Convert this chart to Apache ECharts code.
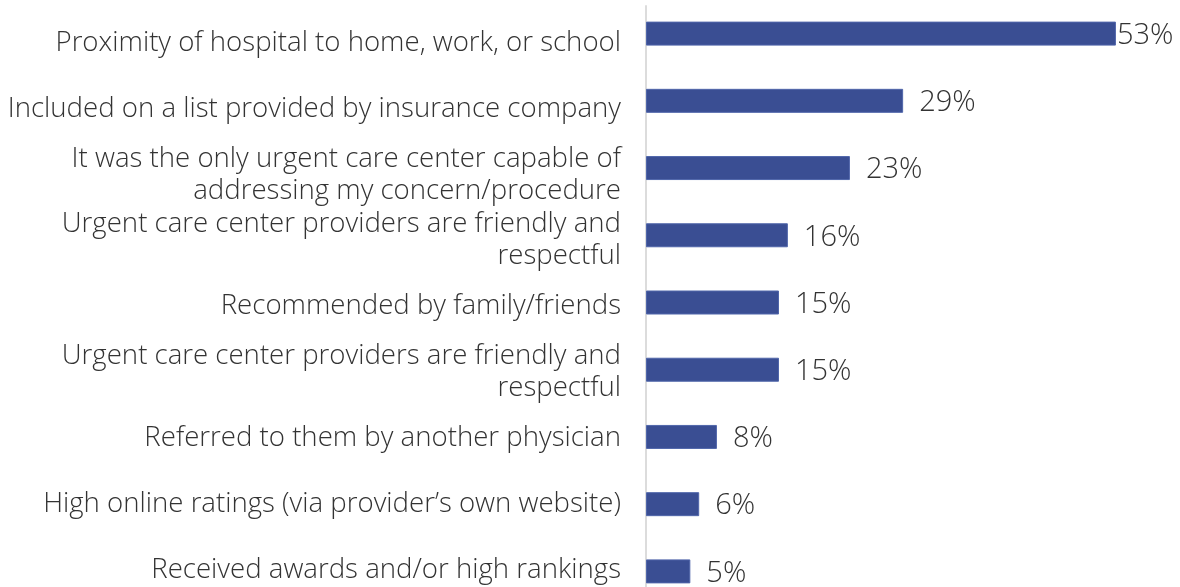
<!DOCTYPE html>
<html>
<head>
<meta charset="utf-8">
<script src="https://cdn.jsdelivr.net/npm/echarts@6/dist/echarts.min.js"></script>
<style>
  html, body { margin: 0; padding: 0; background: #ffffff; }
  #chart { width: 1180px; height: 587px; }
</style>
</head>
<body>
<div id="chart"></div>
<script>
// Reasons for choosing an urgent care center (share of respondents, %)
const categories = [
  'Proximity of hospital to home, work, or school',
  'Included on a list provided by insurance company',
  'It was the only urgent care center capable of\naddressing my concern/procedure',
  'Urgent care center providers are friendly and\nrespectful',
  'Recommended by family/friends',
  'Urgent care center providers are friendly and\nrespectful',
  'Referred to them by another physician',
  'High online ratings (via provider\u2019s own website)',
  'Received awards and/or high rankings'
];
const values = [53, 29, 23, 16, 15, 15, 8, 6, 5];

const textColor = '#333333';
const barColor = '#3A4E93';
const fontFamily = 'Open Sans';

const chart = echarts.init(document.getElementById('chart'), null, { renderer: 'canvas' });

const seriesData = values.map((v, i) => ({
  value: v,
  // the longest bar keeps its label tight against the bar end
  label: i === 0 ? { distance: 1 } : undefined
}));

// a thin spacer line on top drops each category label a few pixels
function categoryLabel(name) {
  return '{s| }\n' + name.split('\n').map(line => '{t|' + line + '}').join('\n');
}

const labelText = {
  color: textColor,
  fontFamily: fontFamily,
  fontWeight: 300,
  fontSize: 27.6,
  lineHeight: 32,
  align: 'right'
};

chart.setOption({
  animation: false,
  backgroundColor: '#ffffff',
  grid: [
    // bars; the last row runs past the bottom edge of the canvas
    { left: 646, right: 2, top: 0, height: 605, outerBoundsMode: 'none' },
    // category text column with its own, slightly tighter row pitch
    { left: 646, right: 2, top: 6, height: 593, outerBoundsMode: 'none' }
  ],
  xAxis: [
    { gridIndex: 0, type: 'value', min: 0, max: 60, show: false },
    { gridIndex: 1, type: 'value', min: 0, max: 60, show: false }
  ],
  yAxis: [
    {
      gridIndex: 0,
      type: 'category',
      inverse: true,
      data: categories,
      axisLine: { show: false },
      axisTick: { show: false },
      axisLabel: { show: false }
    },
    {
      gridIndex: 1,
      type: 'category',
      inverse: true,
      data: categories,
      axisLine: { show: true, lineStyle: { color: '#dcdcdc', width: 2 } },
      axisTick: { show: false },
      axisLabel: Object.assign({
        margin: 25,
        formatter: categoryLabel,
        rich: {
          s: { fontSize: 2, lineHeight: 8 },
          t: Object.assign({}, labelText)
        }
      }, labelText)
    }
  ],
  series: [{
    type: 'bar',
    xAxisIndex: 0,
    yAxisIndex: 0,
    data: seriesData,
    barWidth: 24,
    itemStyle: { color: barColor, borderColor: '#5066AA', borderWidth: 1 },
    label: {
      show: true,
      position: 'right',
      distance: 16,
      offset: [0, 2],
      formatter: '{c}%',
      color: textColor,
      fontFamily: fontFamily,
      fontWeight: 300,
      fontSize: 29
    }
  }]
});
</script>
</body>
</html>
